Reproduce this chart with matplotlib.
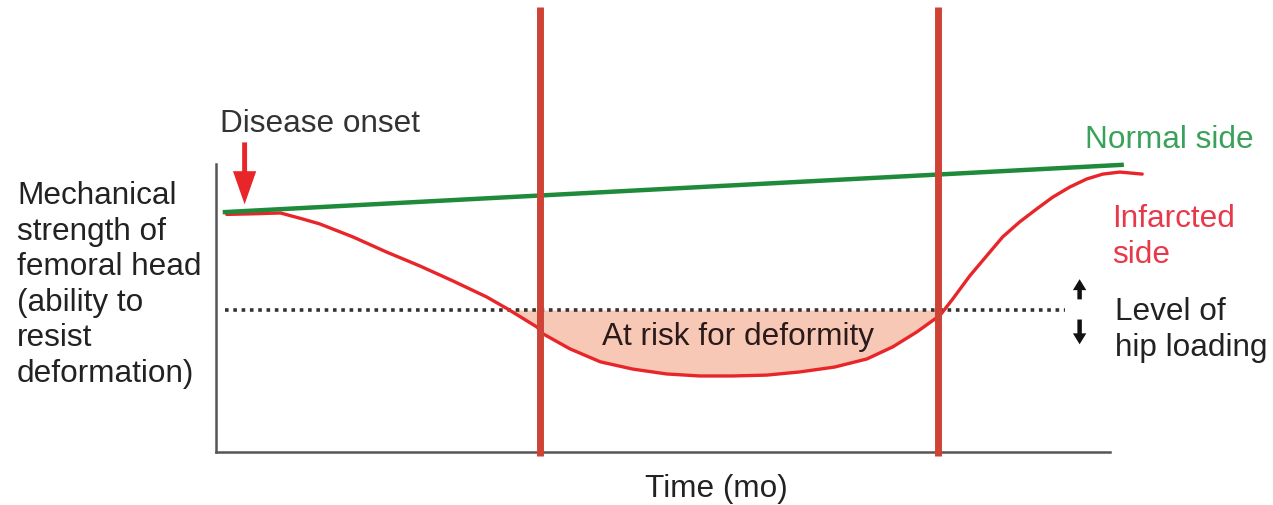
import numpy as np
import matplotlib.pyplot as plt

plt.rcParams['font.family'] = ['Liberation Sans', 'DejaVu Sans']

W, H = 1273, 506

# time axis 0..100 (arbitrary months), strength 0..100
normal_t = [1.0, 101.3]
normal_s = [83.3, 99.7]

infarct_t = [1.2, 4.1, 7.2, 9.7, 11.6, 15.3, 19.1, 22.8, 26.5, 30.3, 32.6, 35.9,
             36.6, 39.6, 43.0, 46.6, 50.4, 54.1, 57.8, 61.6, 65.3, 69.2, 72.8,
             75.7, 78.4, 81.0, 82.4, 84.3, 86.2, 88.0, 89.9, 91.8, 93.6, 95.5,
             97.4, 99.2, 101.1, 103.6]
infarct_s = [82.5, 82.7, 83.0, 80.9, 79.2, 74.7, 69.4, 64.6, 59.4, 53.8, 49.7, 43.4,
             41.0, 35.8, 31.3, 28.8, 27.1, 26.4, 26.4, 26.7, 27.8, 29.5, 32.3,
             36.5, 41.7, 47.5, 53.1, 61.1, 68.1, 74.7, 79.9, 84.4, 88.5, 92.0,
             94.8, 96.5, 97.2, 96.5]

load_t = [1.0, 95.0]
load_s = 49.3

risk_window = [36.2, 80.8]

fig = plt.figure(figsize=(W / 100, H / 100), dpi=100)
ax = fig.add_axes([216 / W, 53 / H, 894 / W, 288 / H])
ax.set_xlim(0, 100)
ax.set_ylim(0, 100)
for s in ['top', 'right']:
    ax.spines[s].set_visible(False)
for s in ['left', 'bottom']:
    ax.spines[s].set_color('#555555')
    ax.spines[s].set_linewidth(1.8)
ax.set_xticks([])
ax.set_yticks([])

t = np.array(infarct_t)
s = np.array(infarct_s)
ax.fill_between(t, s, load_s, where=s < load_s, interpolate=True,
                color='#f8c8b6', lw=0, zorder=1)
ax.plot(load_t, [load_s, load_s], color='#333333', lw=2.6, ls=(0, (1, 1.3)),
        zorder=2, clip_on=False)
ax.plot(t, s, color='#e8262a', lw=2.4, zorder=3, clip_on=False,
        solid_capstyle='round', solid_joinstyle='round')
ax.plot(normal_t, normal_s, color='#1e8a3a', lw=3.2, zorder=4, clip_on=False)

for x in risk_window:
    ax.plot([x, x], [-1.4, 154.5], color='#cf4236', lw=5.0, zorder=5,
            clip_on=False, solid_capstyle='butt')

# disease onset arrow
ax.arrow(3.2, 107.5, 0, -21.5, width=0.55, head_width=2.6, head_length=11.5,
         length_includes_head=True, color='#e8262a', lw=0, clip_on=False, zorder=6)
# hip loading arrows
ax.arrow(96.6, 53.0, 0, 7.0, width=0.5, head_width=1.5, head_length=3.8,
         length_includes_head=True, color='#111111', lw=0, clip_on=False)
ax.arrow(96.6, 46.0, 0, -8.6, width=0.5, head_width=1.5, head_length=3.8,
         length_includes_head=True, color='#111111', lw=0, clip_on=False)


def px(x, y):
    return x / W, 1 - y / H


fs = 22.7
ls = 1.24
fig.text(*px(220, 124), 'Disease onset', fontsize=fs, color='#333333',
         ha='left', va='center')
fig.text(*px(17, 181), 'Mechanical\nstrength of\nfemoral head\n(ability to\nresist\ndeformation)',
         fontsize=fs, color='#222222', ha='left', va='top', linespacing=ls)
fig.text(*px(1085, 140), 'Normal side', fontsize=fs, color='#3aa15a',
         ha='left', va='center')
fig.text(*px(1112, 204), 'Infarcted\nside', fontsize=fs, color='#e8394a',
         ha='left', va='top', linespacing=ls)
fig.text(*px(1115, 297), 'Level of\nhip loading', fontsize=fs, color='#222222',
         ha='left', va='top', linespacing=ls)
fig.text(*px(738, 337), 'At risk for deformity', fontsize=fs, color='#2a1a1a',
         ha='center', va='center')
fig.text(*px(716, 489), 'Time (mo)', fontsize=fs, color='#222222',
         ha='center', va='center')

fig.savefig('out.png', dpi=100)
